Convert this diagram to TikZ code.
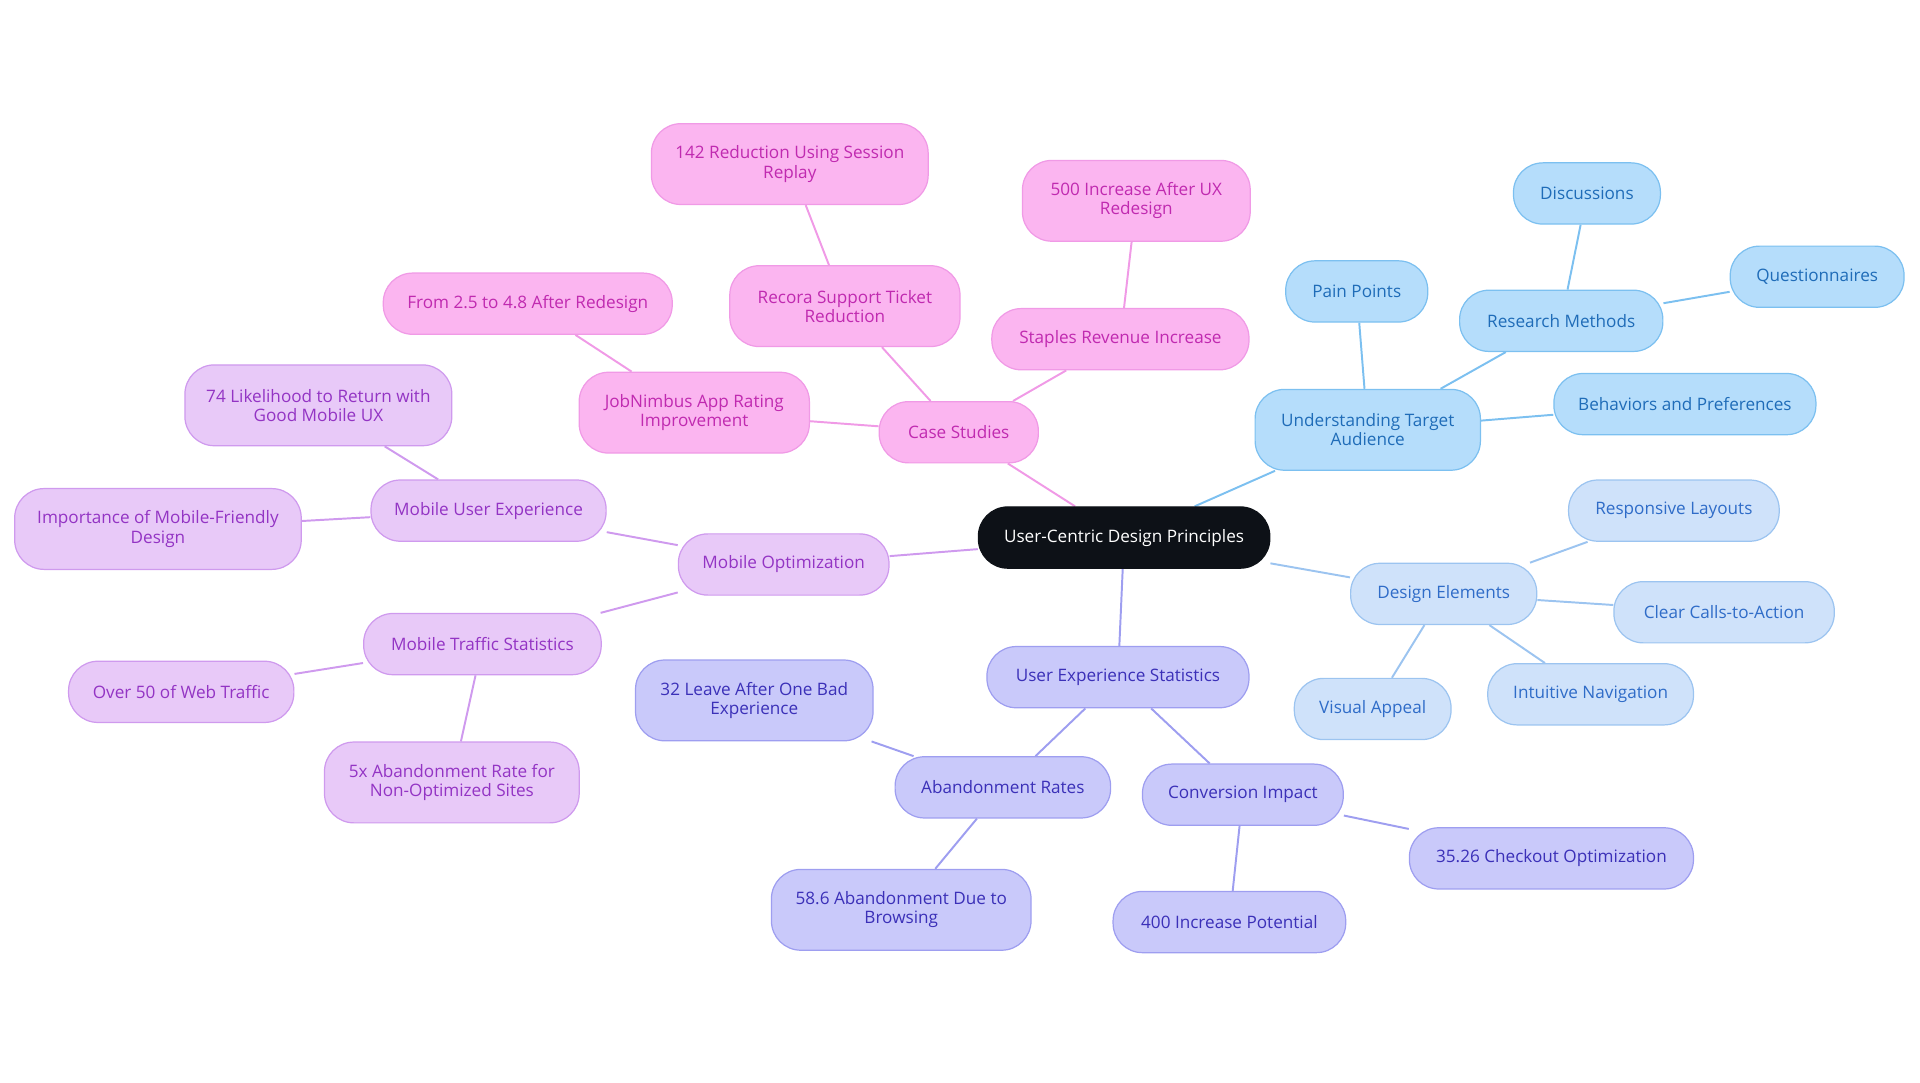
\documentclass[tikz,border=0pt]{standalone}
\usepackage{fontspec}
\setmainfont{Open Sans}
\usetikzlibrary{backgrounds}
\definecolor{pkF}{HTML}{FBB5F0}\definecolor{pkD}{HTML}{F09AE6}\definecolor{pkT}{HTML}{C02AB0}
\definecolor{blF}{HTML}{B5DDFB}\definecolor{blD}{HTML}{7CC0F0}\definecolor{blT}{HTML}{1F6CB8}
\definecolor{lbF}{HTML}{CFE2FA}\definecolor{lbD}{HTML}{9CC4F0}\definecolor{lbT}{HTML}{2F6CC8}
\definecolor{puF}{HTML}{E8C9F8}\definecolor{puD}{HTML}{CF9AEE}\definecolor{puT}{HTML}{9334C4}
\definecolor{igF}{HTML}{C9C9FA}\definecolor{igD}{HTML}{9E9EF0}\definecolor{igT}{HTML}{3B30B8}
\definecolor{rootF}{HTML}{0D1117}
\tikzset{
 bx/.style={rounded corners=12pt,line width=0.5pt,align=center,font=\fontsize{7}{7.8}\selectfont,inner sep=1pt},
 pk/.style={bx,fill=pkF,draw=pkD,text=pkT},
 bl/.style={bx,fill=blF,draw=blD,text=blT},
 lb/.style={bx,fill=lbF,draw=lbD,text=lbT},
 pu/.style={bx,fill=puF,draw=puD,text=puT},
 ig/.style={bx,fill=igF,draw=igD,text=igT},
 e/.style={line width=0.8pt},
}
\newcommand{\nd}[6]{\node[#1,minimum width=#4pt,minimum height=#5pt] (#2) at (#3) {#6};}
\begin{document}
\begin{tikzpicture}[x=0.5pt,y=-0.5pt]
\useasboundingbox (0,0) rectangle (1568,884);
\node[bx,fill=rootF,draw=rootF,text=white,minimum width=119pt,minimum height=25pt] (root) at (918,439) {User-Centric Design Principles};
\nd{pk}{cs}{783,353}{65}{25}{Case Studies}
\nd{pk}{sri}{915,277}{105}{25}{Staples Revenue Increase}
\nd{pk}{inc}{928,164}{93}{33}{500 Increase After UX\\Redesign}
\nd{pk}{rst}{690,250}{94}{33}{Recora Support Ticket\\Reduction}
\nd{pk}{red}{645,134}{113}{33}{142 Reduction Using Session\\Replay}
\nd{pk}{job}{567,337}{94}{33}{JobNimbus App Rating\\Improvement}
\nd{pk}{fr}{431,248}{118}{25}{From 2.5 to 4.8 After Redesign}
\nd{bl}{uta}{1117,351}{92}{33}{Understanding Target\\Audience}
\nd{bl}{pp}{1108,238}{58}{25}{Pain Points}
\nd{bl}{rm}{1275,262}{83}{25}{Research Methods}
\nd{bl}{di}{1296,158}{60}{25}{Discussions}
\nd{bl}{qu}{1484,226}{71}{25}{Questionnaires}
\nd{bl}{bp}{1376,330}{107}{25}{Behaviors and Preferences}
\nd{lb}{de}{1179,485}{76}{25}{Design Elements}
\nd{lb}{rl}{1367,417}{86}{25}{Responsive Layouts}
\nd{lb}{cc}{1408,500}{90}{25}{Clear Calls-to-Action}
\nd{lb}{inav}{1299,567}{84}{25}{Intuitive Navigation}
\nd{lb}{va}{1121,579}{64}{25}{Visual Appeal}
\nd{ig}{ues}{913,553}{107}{25}{User Experience Statistics}
\nd{ig}{ar}{819,643}{88}{25}{Abandonment Rates}
\nd{ig}{lv}{616,572}{97}{33}{32 Leave After One Bad\\Experience}
\nd{ig}{ab}{736,743}{106}{33}{58.6 Abandonment Due to\\Browsing}
\nd{ig}{ci}{1015,649}{82}{25}{Conversion Impact}
\nd{ig}{co}{1267,701}{116}{25}{35.26 Checkout Optimization}
\nd{ig}{ip}{1004,753}{95}{25}{400 Increase Potential}
\nd{pu}{mo}{640,461}{86}{25}{Mobile Optimization}
\nd{pu}{mux}{399,417}{96}{25}{Mobile User Experience}
\nd{pu}{lik}{260,331}{109}{33}{74 Likelihood to Return with\\Good Mobile UX}
\nd{pu}{imp}{129,432}{117}{33}{Importance of Mobile-Friendly\\Design}
\nd{pu}{mts}{394,526}{97}{25}{Mobile Traffic Statistics}
\nd{pu}{ov}{148,565}{92}{25}{Over 50 of Web Traffic}
\nd{pu}{fx}{369,639}{104}{33}{5x Abandonment Rate for\\Non-Optimized Sites}
\begin{scope}[on background layer]
\draw[e,pkD] (root)--(cs) (cs)--(sri) (sri)--(inc) (cs)--(rst) (rst)--(red) (cs)--(job) (job)--(fr);
\draw[e,blD] (root)--(uta) (uta)--(pp) (uta)--(rm) (rm)--(di) (rm)--(qu) (uta)--(bp);
\draw[e,lbD] (root)--(de) (de)--(rl) (de)--(cc) (de)--(inav) (de)--(va);
\draw[e,igD] (root)--(ues) (ues)--(ar) (ar)--(lv) (ar)--(ab) (ues)--(ci) (ci)--(co) (ci)--(ip);
\draw[e,puD] (root)--(mo) (mo)--(mux) (mux)--(lik) (mux)--(imp) (mo)--(mts) (mts)--(ov) (mts)--(fx);
\end{scope}
\end{tikzpicture}
\end{document}
